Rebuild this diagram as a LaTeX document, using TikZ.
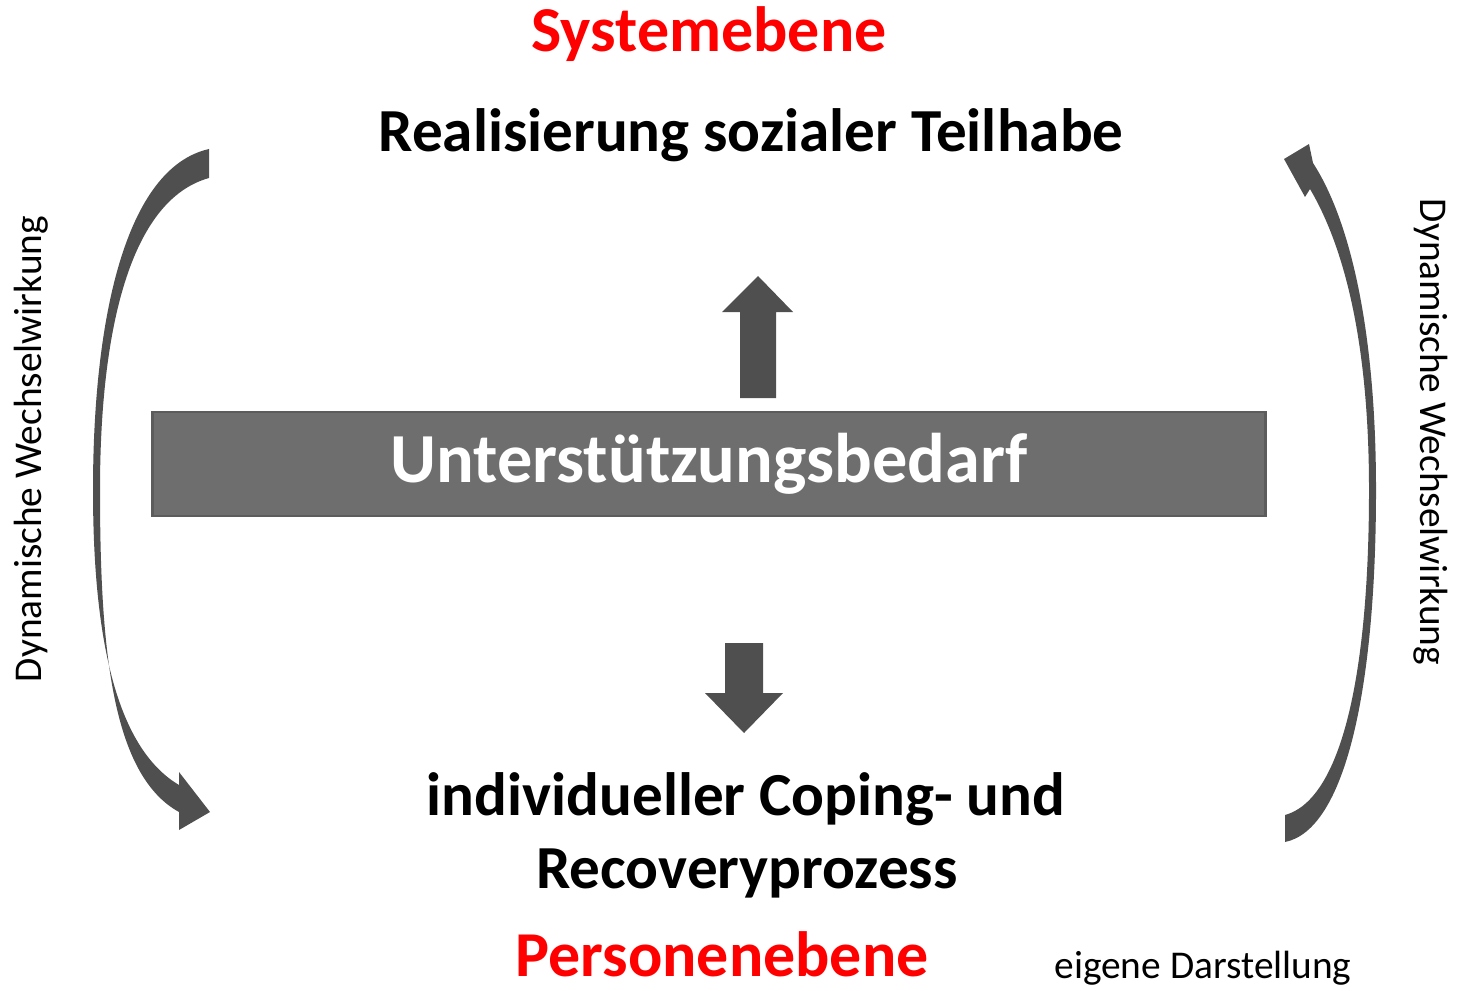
\documentclass[tikz,border=0pt]{standalone}
\usepackage{fontspec}
\setmainfont{Carlito}
\usetikzlibrary{positioning}
\definecolor{boxgray}{HTML}{6E6E6E}
\definecolor{boxline}{HTML}{5C5C5C}
\definecolor{arrowgray}{HTML}{4F4F4F}
\definecolor{levelred}{HTML}{FF0000}

\begin{document}
\begin{tikzpicture}[x=0.025cm,y=-0.025cm,
  level/.style={anchor=base,inner sep=0pt,text=levelred,font=\bfseries\fontsize{45.5}{50}\selectfont},
  heading/.style={anchor=base,font=\bfseries\fontsize{43.5}{50}\selectfont},
  side/.style={anchor=base,font=\fontsize{28}{32}\selectfont},
  fatarrow/.style={fill=arrowgray}]
\useasboundingbox (0,0) rectangle (1457,991);
\node[level] (sys) at (709,52) {Systemebene};
\node[heading] (teil) at (751,152) {Realisierung sozialer Teilhabe};
\node[draw=boxline,line width=2pt,fill=boxgray,minimum width=27.8cm,minimum height=2.6cm,text=white,font=\bfseries\fontsize{50}{54}\selectfont] (bedarf) at (709,464) {Unterstützungsbedarf};
\node[heading] (cope) at (746,815) {individueller Coping- und};
\node[heading] (recov) at (747,888) {Recoveryprozess};
\node[level] (pers) at (722,976) {Personenebene};
\node[side] (quelle) at (1203,978) {eigene Darstellung};
\node[side,rotate=90] (wechsel1) at (41,449) {Dynamische Wechselwirkung};
\node[side,rotate=-90] (wechsel2) at (1420,432) {Dynamische Wechselwirkung};
\fill[fatarrow] (740,398) -- (776,398) -- (776,312) -- (793,312) -- (758,276) -- (722,312) -- (740,312) -- cycle;
\fill[fatarrow] (725,643) -- (763,643) -- (763,693) -- (783,693) -- (744,733) -- (705,693) -- (725,693) -- cycle;
\fill[fatarrow] (209,149) .. controls (125,168) and (93,320) .. (93,490) .. controls (93,650) and (120,750) .. (179,785) -- (179,772) -- (210,812) -- (179,830) -- (179,812) .. controls (112,775) and (100,650) .. (100,490) .. controls (100,330) and (130,200) .. (209,178) -- cycle;
\fill[fatarrow] (1285,842) .. controls (1345,830) and (1376,690) .. (1376,490) .. controls (1376,330) and (1350,220) .. (1313,163) -- (1309,144) -- (1284,159) -- (1305,197) -- (1310,189) .. controls (1340,240) and (1369,330) .. (1369,490) .. controls (1369,680) and (1340,800) .. (1285,815) -- cycle;
\end{tikzpicture}
\end{document}
